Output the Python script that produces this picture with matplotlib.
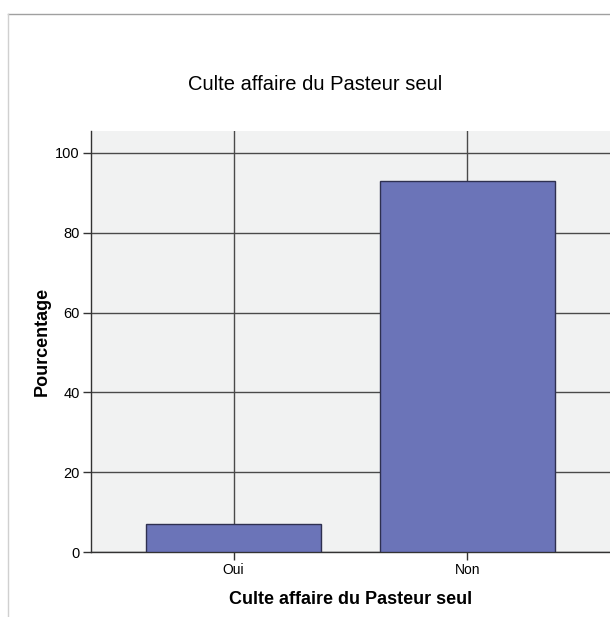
import matplotlib
matplotlib.use("Agg")
import matplotlib.pyplot as plt
from matplotlib.lines import Line2D

categories = ["Oui", "Non"]
values = [7.0, 93.0]
yticks = [0, 20, 40, 60, 80, 100]

plt.rcParams['font.family'] = ['Liberation Sans', 'DejaVu Sans']

fig = plt.figure(figsize=(6.10, 6.17), dpi=100)
ax = fig.add_axes([91/610, 1-552/617, 1-91/610, (552-131)/617])
ax.set_facecolor("#F1F2F2")

x = list(range(len(categories)))
ax.bar(x, values, width=0.75, color="#6B74B8", edgecolor="#2E3050", linewidth=1.0, zorder=3)

ax.set_xlim(-0.61, 1.61)
ax.set_ylim(0, 105.5)
ax.set_yticks(yticks)
ax.set_xticks(x)
ax.set_xticklabels(categories)
ax.tick_params(axis='both', labelsize=10.5, length=6, width=1, color="#333333", pad=2)
ax.tick_params(axis='x', labelsize=10)

ax.grid(True, color="#4A4A4A", linewidth=1.0, zorder=1)
ax.set_axisbelow(True)
for s in ["top", "right"]:
    ax.spines[s].set_visible(False)
for s in ["left", "bottom"]:
    ax.spines[s].set_color("#333333")
    ax.spines[s].set_linewidth(1.0)

ax.set_xlabel("Culte affaire du Pasteur seul", fontsize=13, fontweight='bold', labelpad=10)
ax.set_ylabel("Pourcentage", fontsize=13, fontweight='bold', labelpad=3)
fig.text(315/610, 1-85/617, "Culte affaire du Pasteur seul", fontsize=14.5, ha='center', va='center')

# frame lines at top and left
fig.add_artist(Line2D([8/610, 1], [1-14/617, 1-14/617], color="#A0A0A0", linewidth=1.0, transform=fig.transFigure))
fig.add_artist(Line2D([8/610, 8/610], [0, 1-14/617], color="#D0D0D0", linewidth=1.0, transform=fig.transFigure))

fig.savefig("out.png", dpi=100, facecolor="white")
